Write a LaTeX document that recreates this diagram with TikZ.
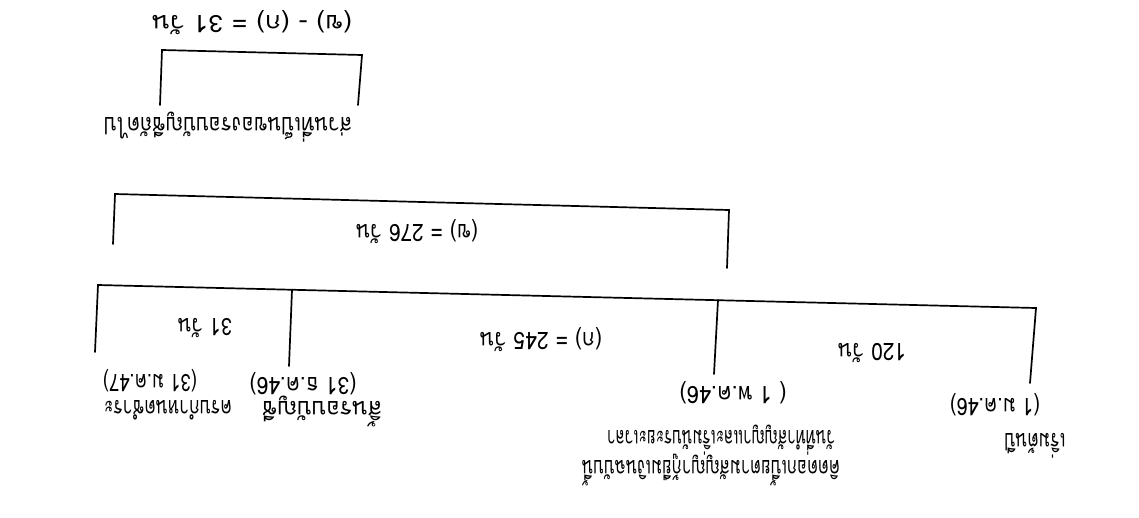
\documentclass[tikz,border=0pt]{standalone}
\usepackage{fontspec}
\usepackage{graphicx}
\newfontfamily\thaifont[Script=Thai]{Loma}
% set a label to a given width (in pt), keeping its natural height
\newcommand\fitw[2]{\resizebox{#1pt}{\height}{#2}}
\tikzset{
  rule/.style={line width=1.7pt, line cap=round, line join=miter, black},
  lbl/.style={inner sep=0pt, rotate=180, text=black,
              font=\thaifont\fontsize{24}{28}\selectfont},
}
\begin{document}
\begin{tikzpicture}[x=1pt, y=-1pt]
  \useasboundingbox (0,0) rectangle (1139,517);
  \fill[white] (0,0) rectangle (1139,517);

  % ---- top bracket: (b) - (a)
  \coordinate (a1) at (160,105);
  \coordinate (a2) at (162,50);
  \coordinate (a3) at (362,55);
  \coordinate (a4) at (358,105);
  \draw[rule] (a1) -- (a2) -- (a3) -- (a4);
  \node[lbl] (diff) at (252,23) {\fitw{200}{(ข) - (ก) = 31 วัน}};
  \node[lbl] (next) at (228,127) {\fitw{248}{ส่วนที่เป็นของรอบบัญชีถัดไป}};

  % ---- middle bracket: (b)
  \coordinate (b1) at (113,244);
  \coordinate (b2) at (115,194);
  \coordinate (b3) at (729,210);
  \coordinate (b4) at (727,268);
  \draw[rule] (b1) -- (b2) -- (b3) -- (b4);
  \node[lbl] (spanb) at (417,232) {\fitw{122}{(ข) = 276 วัน}};

  % ---- time line with four dates
  \coordinate (c1) at (95,352);
  \coordinate (c2) at (98,285);
  \coordinate (c5) at (1036,308);
  \coordinate (c6) at (1030,383);
  \coordinate (d1) at (292,290);
  \coordinate (d2) at (289,366);
  \coordinate (e1) at (718,300);
  \coordinate (e2) at (714,374);
  \draw[rule] (c1) -- (c2) -- (c5) -- (c6);
  \draw[rule] (d1) -- (d2);
  \draw[rule] (e1) -- (e2);

  % spans between the dates
  \node[lbl] (span31)  at (205,328) {\fitw{54}{31 วัน}};
  \node[lbl] (spana)   at (541,340) {\fitw{122}{(ก) = 245 วัน}};
  \node[lbl] (span120) at (872,353) {\fitw{68}{120 วัน}};

  % dates
  \node[lbl] (date1) at (150,381)  {\fitw{94}{(31 ม.ค.47)}};
  \node[lbl] (date2) at (303,384)  {\fitw{107}{(31 ธ.ค.46)}};
  \node[lbl] (date3) at (733,393)  {\fitw{107}{( 1 พ.ค.46)}};
  \node[lbl] (date4) at (995,405)  {\fitw{90}{(1 ม.ค.46)}};

  % events
  \node[lbl] (ev1)  at (168,410) {\fitw{128}{ครบกำหนดชำระ}};
  \node[lbl] (ev2)  at (322,411) {\fitw{120}{สิ้นรอบบัญชี}};
  \node[lbl] (ev3a) at (721,440) {\fitw{228}{วันที่ทำสัญญาและเริ่มนับระยะเวลา}};
  \node[lbl] (ev3b) at (711,470) {\fitw{258}{คิดดอกเบี้ยตามสัญญากู้ยืมเงินฉบับนี้}};
  \node[lbl] (ev4)  at (1035,446) {\fitw{61}{เริ่มต้นปี}};
\end{tikzpicture}
\end{document}
